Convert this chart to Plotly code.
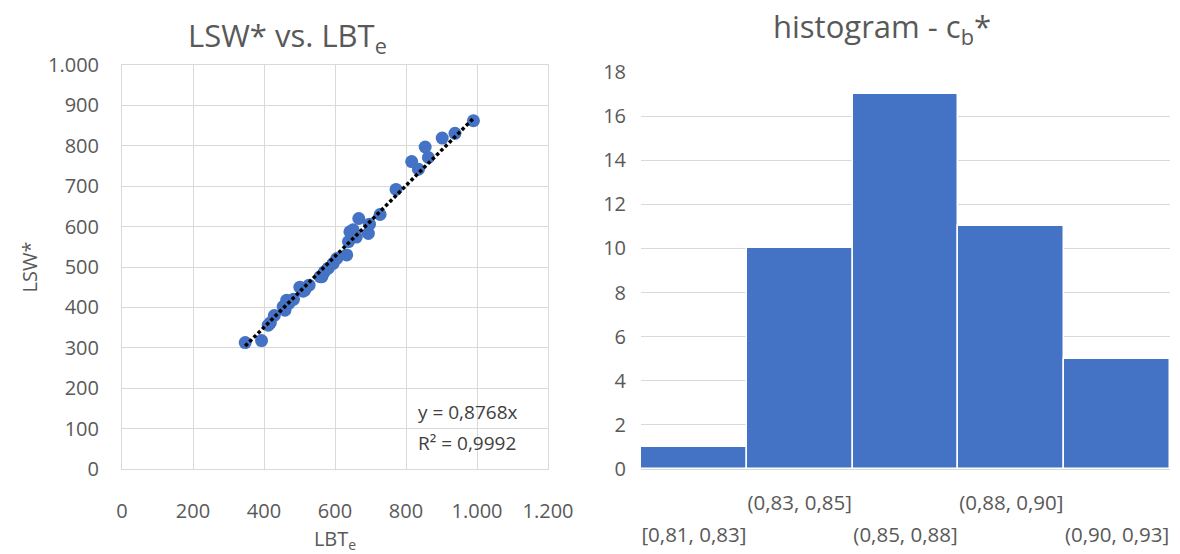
import plotly.graph_objects as go

# LSW* against LBT_e for each sample
lbt_e = [347, 393, 412, 418, 429, 454, 459, 464, 470, 483, 501, 510, 515, 527,
         558, 563, 570, 581, 595, 605, 633, 638, 642, 651, 660, 667, 694, 697,
         727, 772, 816, 835, 854, 863, 902, 938, 990]
lsw = [313, 318, 356, 362, 380, 402, 393, 418, 410, 420, 450, 440, 443, 455,
       476, 476, 488, 497, 509, 521, 530, 563, 587, 592, 574, 620, 583, 606,
       630, 692, 761, 742, 797, 771, 819, 831, 862]

# linear trend through the origin
slope = 0.8768
r_squared = 0.9992

# histogram of c_b*
bins = ["[0,81, 0,83]", "(0,83, 0,85]", "(0,85, 0,88]", "(0,88, 0,90]", "(0,90, 0,93]"]
counts = [1, 10, 17, 11, 5]

BLUE = "#4472C4"
GRID = "#D9D9D9"
TEXT = "#595959"
FONT = "Open Sans"

fig = go.Figure()

fig.add_trace(go.Scatter(
    x=lbt_e, y=lsw, mode="markers",
    marker=dict(color=BLUE, size=13, line=dict(width=0)),
    xaxis="x", yaxis="y", showlegend=False,
))

x_lo, x_hi = min(lbt_e), max(lbt_e)
fig.add_trace(go.Scatter(
    x=[x_lo, x_hi], y=[slope * x_lo, slope * x_hi], mode="lines",
    line=dict(color="black", width=3.5, dash="3.5px,2.5px"),
    xaxis="x", yaxis="y", showlegend=False,
))

idx = list(range(len(bins)))
fig.add_trace(go.Bar(
    x=idx, y=counts, width=1.0,
    marker=dict(color=BLUE, line=dict(color="white", width=1.5)),
    xaxis="x2", yaxis="y2", showlegend=False,
))
# empty trace so the second label row axis gets drawn
fig.add_trace(go.Scatter(x=[], y=[], xaxis="x3", yaxis="y2", showlegend=False))

# bin labels alternate between an upper and a lower row
upper_vals = [i for i in idx if i % 2 == 1]
lower_vals = [i for i in idx if i % 2 == 0]

tickfont = dict(family=FONT, size=20, color=TEXT)
binfont = dict(family=FONT, size=20.5, color=TEXT)
hist_domain = [641 / 1180, 1170 / 1180]

fig.update_layout(
    width=1180, height=554, autosize=False,
    margin=dict(l=0, r=0, t=0, b=0, pad=0, autoexpand=False),
    paper_bgcolor="white", plot_bgcolor="white",
    separators=",.",
    font=dict(family=FONT, color=TEXT),
    bargap=0,
    xaxis=dict(
        domain=[122 / 1180, 548 / 1180], anchor="y",
        range=[0, 1200], dtick=200, tickformat=",d",
        showgrid=True, gridcolor=GRID, gridwidth=1,
        showline=True, linecolor=GRID, linewidth=1, mirror=True,
        zeroline=False, ticks="", tickfont=tickfont, ticklabelstandoff=24,
        automargin=False,
        title=dict(text="LBT<sub>e</sub>", font=dict(family=FONT, size=20, color=TEXT), standoff=13),
    ),
    yaxis=dict(
        domain=[(554 - 469) / 554, (554 - 65) / 554], anchor="x",
        range=[0, 1000], dtick=100, tickformat=",d",
        showgrid=True, gridcolor=GRID, gridwidth=1,
        showline=True, linecolor=GRID, linewidth=1, mirror=True,
        zeroline=False, ticks="", tickfont=tickfont, ticklabelstandoff=18,
        automargin=False,
        title=dict(text="LSW*", font=dict(family=FONT, size=20, color=TEXT), standoff=5),
    ),
    xaxis2=dict(
        domain=hist_domain, anchor="y2",
        range=[-0.5, 4.5], tickmode="array", tickvals=upper_vals,
        ticktext=[bins[i] for i in upper_vals],
        showgrid=False, showline=False, zeroline=False, ticks="",
        tickfont=binfont, ticklabelstandoff=19,
        automargin=False,
    ),
    xaxis3=dict(
        domain=hist_domain, anchor="y2", overlaying="x2",
        range=[-0.5, 4.5], tickmode="array", tickvals=lower_vals,
        ticktext=[bins[i] for i in lower_vals],
        showgrid=False, showline=False, zeroline=False, ticks="",
        tickfont=binfont, ticklabelstandoff=51,
        automargin=False,
    ),
    yaxis2=dict(
        domain=[(554 - 469) / 554, (554 - 72) / 554], anchor="x2",
        range=[0, 18], dtick=2,
        showgrid=True, gridcolor=GRID, gridwidth=1,
        showline=False, zeroline=True, zerolinecolor=GRID, zerolinewidth=1,
        ticks="", tickfont=tickfont, ticklabelstandoff=14,
        automargin=False,
    ),
    annotations=[
        dict(text="LSW* vs. LBT<sub>e</sub>", x=287 / 1180, y=1 - 37 / 554,
             xref="paper", yref="paper", xanchor="center", yanchor="middle",
             showarrow=False, font=dict(family=FONT, size=31, color=TEXT)),
        dict(text="histogram - c<sub>b</sub>*", x=882 / 1180, y=1 - 28 / 554,
             xref="paper", yref="paper", xanchor="center", yanchor="middle",
             showarrow=False, font=dict(family=FONT, size=31, color=TEXT)),
        dict(text=f"y = {slope:.4f}x".replace(".", ","), x=416 / 1180, y=1 - 412 / 554,
             xref="paper", yref="paper", xanchor="left", yanchor="middle",
             showarrow=False, font=dict(family=FONT, size=19, color="#404040")),
        dict(text=f"R² = {r_squared:.4f}".replace(".", ","), x=416 / 1180, y=1 - 443 / 554,
             xref="paper", yref="paper", xanchor="left", yanchor="middle",
             showarrow=False, font=dict(family=FONT, size=19, color="#404040")),
    ],
)

fig.write_html("out.html")
